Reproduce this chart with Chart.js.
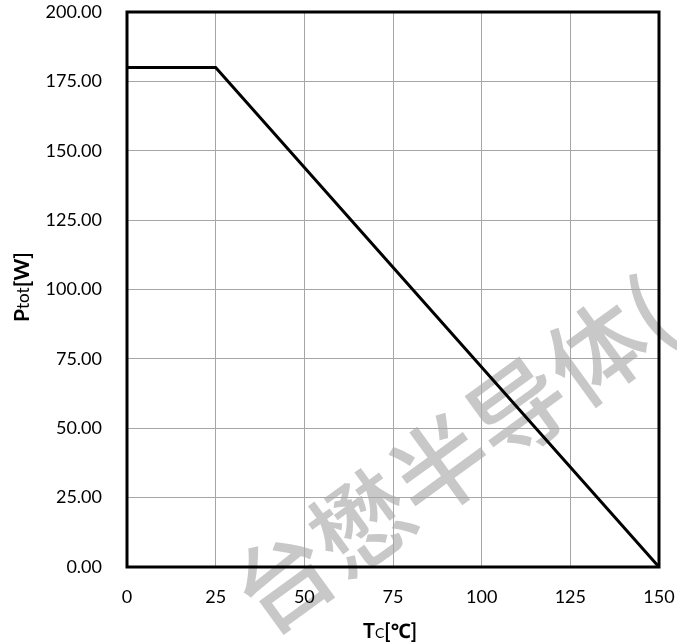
<!DOCTYPE html>
<html>
<head>
<meta charset="utf-8">
<script src="https://cdn.jsdelivr.net/npm/chart.js@4.4.1/dist/chart.umd.min.js"></script>
<style>
  html, body { margin: 0; padding: 0; background: #ffffff; }
  #wrap { width: 677px; height: 644px; }
</style>
</head>
<body>
<div id="wrap"><canvas id="c" width="677" height="644"></canvas></div>
<script>
// Power derating curve: case temperature vs. total power dissipation
const caseTemp = [0, 25, 150];
const totalPower = [180, 180, 0];
const xTicks = [0, 25, 50, 75, 100, 125, 150];
const yTicks = [0, 25, 50, 75, 100, 125, 150, 175, 200];
const watermark = '台懋半导体(';

const FONT = 'Lato, "Noto Sans", sans-serif';

const points = caseTemp.map((t, i) => ({ x: t, y: totalPower[i] }));

const decor = {
  id: 'decor',
  beforeDraw(chart) {
    // faint company mark behind everything
    const ctx = chart.ctx;
    ctx.save();
    ctx.fillStyle = '#c8c8c8';
    const size = 97;
    ctx.font = '500 ' + size + 'px "Noto Sans CJK SC"';
    ctx.textBaseline = 'middle';
    ctx.textAlign = 'left';
    ctx.translate(283, 580);
    ctx.rotate(-36 * Math.PI / 180);
    ctx.fillText(watermark, -size / 2, 0);
    ctx.restore();
  },
  afterDraw(chart) {
    const ctx = chart.ctx;
    const a = chart.chartArea;
    ctx.save();
    // plot frame
    ctx.strokeStyle = '#000';
    ctx.lineWidth = 3;
    ctx.strokeRect(a.left, a.top, a.right - a.left, a.bottom - a.top);

    ctx.fillStyle = '#000';
    ctx.textBaseline = 'alphabetic';
    // x-axis title: T c [℃]
    const xParts = [
      { t: 'T', f: 'bold 20px ' + FONT },
      { t: 'C', f: '14px ' + FONT },
      { t: '[℃]', f: 'bold 20px ' + FONT }
    ];
    let w = 0;
    xParts.forEach(p => { ctx.font = p.f; p.w = ctx.measureText(p.t).width; w += p.w; });
    let x = 390 - w / 2;
    const yb = 638;
    ctx.textAlign = 'left';
    xParts.forEach(p => { ctx.font = p.f; ctx.fillText(p.t, x, yb); x += p.w; });

    // y-axis title: P tot [W]
    const yParts = [
      { t: 'P', f: 'bold 21px ' + FONT },
      { t: 'tot', f: '17px ' + FONT },
      { t: '[W]', f: 'bold 21px ' + FONT }
    ];
    w = 0;
    yParts.forEach(p => { ctx.font = p.f; p.w = ctx.measureText(p.t).width; w += p.w; });
    ctx.translate(29, 287);
    ctx.rotate(-Math.PI / 2);
    x = -w / 2;
    yParts.forEach(p => { ctx.font = p.f; ctx.fillText(p.t, x, 0); x += p.w; });
    ctx.restore();
  }
};

new Chart(document.getElementById('c'), {
  type: 'scatter',
  data: {
    datasets: [{
      data: points,
      showLine: true,
      borderColor: '#000',
      borderWidth: 3,
      pointRadius: 0,
      tension: 0
    }]
  },
  options: {
    responsive: false,
    animation: false,
    layout: { padding: { top: 12, right: 18, left: 0, bottom: 0 } },
    plugins: { legend: { display: false }, tooltip: { enabled: false } },
    scales: {
      x: {
        type: 'linear',
        min: 0, max: 150,
        afterBuildTicks(s) { s.ticks = xTicks.map(v => ({ value: v })); },
        afterFit(s) { s.height = 77; s.paddingLeft = 0; s.paddingRight = 0; },
        grid: { color: '#a6a6a6', lineWidth: 1, drawTicks: false },
        border: { display: false },
        ticks: { color: '#000', font: { family: FONT, size: 18 }, padding: 19, maxRotation: 0,
                 callback: v => String(v) }
      },
      y: {
        type: 'linear',
        min: 0, max: 200,
        afterBuildTicks(s) { s.ticks = yTicks.map(v => ({ value: v })); },
        afterFit(s) { s.width = 127; s.paddingTop = 0; s.paddingBottom = 0; },
        grid: { color: '#a6a6a6', lineWidth: 1, drawTicks: false },
        border: { display: false },
        ticks: { color: '#000', font: { family: FONT, size: 18 }, padding: 25,
                 callback: v => Number(v).toFixed(2) }
      }
    }
  },
  plugins: [decor]
});
</script>
</body>
</html>
